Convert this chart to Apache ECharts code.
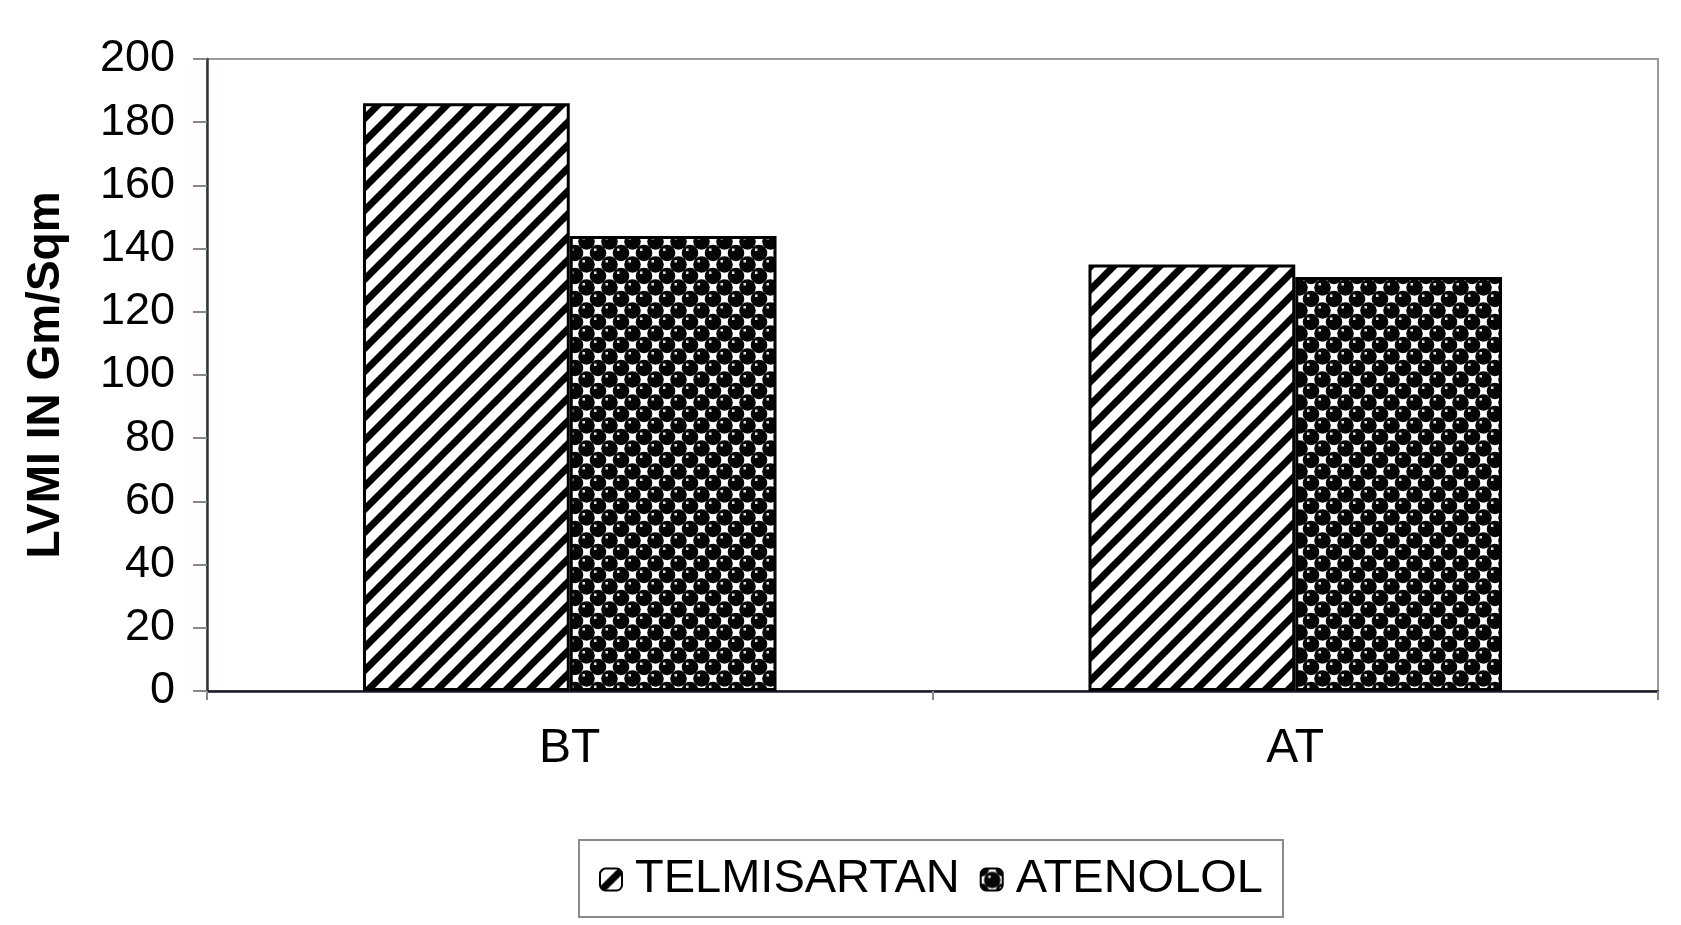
<!DOCTYPE html>
<html>
<head>
<meta charset="utf-8">
<script src="https://cdn.jsdelivr.net/npm/echarts@6/dist/echarts.min.js"></script>
<style>
html,body{margin:0;padding:0;background:#fff;}
#chart{width:1681px;height:925px;}
</style>
</head>
<body>
<div id="chart"></div>
<script>
var categories = ['BT', 'AT'];
var telmisartan = [186, 135];
var atenolol = [144, 131];
var seriesNames = ['TELMISARTAN', 'ATENOLOL'];
var yTicks = { min: 0, max: 200, interval: 20 };

function stripePattern() {
  var P = 23;
  var c = document.createElement('canvas');
  c.width = P; c.height = P;
  var g = c.getContext('2d');
  g.fillStyle = '#ffffff';
  g.fillRect(0, 0, P, P);
  g.strokeStyle = '#000000';
  g.lineWidth = 7;
  for (var k = -1; k <= 2; k++) {
    var s = k * P;
    g.beginPath();
    g.moveTo(s + P, -P);
    g.lineTo(s - 2 * P, 2 * P);
    g.stroke();
  }
  return c;
}
function dotPattern() {
  var P = 23;
  var c = document.createElement('canvas');
  c.width = P; c.height = P;
  var g = c.getContext('2d');
  g.fillStyle = '#ffffff';
  g.fillRect(0, 0, P, P);
  var pts = [[0,0],[P,0],[0,P],[P,P],[P/2,P/2]];
  pts.forEach(function(p){
    g.fillStyle = '#050505';
    g.beginPath();
    g.arc(p[0], p[1], 8.3, 0, Math.PI*2);
    g.fill();
  });
  pts.forEach(function(p){
    g.fillStyle = '#e0e0e0';
    g.fillRect(p[0]-4, p[1]-4.5, 2.5, 2.5);
  });
  return c;
}

var chart = echarts.init(document.getElementById('chart'));
var option = {
  animation: false,
  backgroundColor: '#ffffff',
  grid: {
    left: 207, right: 23, top: 59, bottom: 234,
    show: true, borderColor: '#9a9a9a', borderWidth: 2, backgroundColor: 'transparent'
  },
  legend: {
    data: seriesNames,
    bottom: 8,
    left: 579,
    itemWidth: 22,
    itemHeight: 22,
    itemGap: 20,
    padding: [16, 20, 14, 20],
    borderColor: '#8a8a8a',
    borderWidth: 2,
    textStyle: { fontFamily: 'Liberation Sans', fontSize: 47, color: '#000', padding: [0, 0, 0, 8] },
    itemStyle: { borderColor: '#000', borderWidth: 2 }
  },
  xAxis: {
    type: 'category',
    data: categories,
    axisLine: { lineStyle: { color: '#1a1a2a', width: 2.5 } },
    axisTick: { show: true, length: 9, lineStyle: { color: '#888', width: 2 } },
    axisLabel: { fontFamily: 'Liberation Sans', fontSize: 48, color: '#000', margin: 34 },
    splitLine: { show: false }
  },
  yAxis: {
    type: 'value',
    min: yTicks.min, max: yTicks.max, interval: yTicks.interval,
    name: 'LVMI IN Gm/Sqm',
    nameLocation: 'middle',
    nameGap: 138,
    nameTextStyle: { fontFamily: 'Liberation Sans', fontSize: 46, fontWeight: 'bold', color: '#000' },
    axisLine: { show: true, lineStyle: { color: '#2a3a3a', width: 2.5 } },
    axisTick: { show: true, length: 14, lineStyle: { color: '#888', width: 2 } },
    axisLabel: { fontFamily: 'Liberation Sans', fontSize: 45, color: '#000', margin: 32 },
    splitLine: { show: false }
  },
  series: [
    {
      name: seriesNames[0],
      type: 'bar',
      data: telmisartan,
      barGap: '0%',
      barCategoryGap: '43%',
      itemStyle: { color: { image: stripePattern(), repeat: 'repeat' }, borderColor: '#000', borderWidth: 3 }
    },
    {
      name: seriesNames[1],
      type: 'bar',
      data: atenolol,
      barGap: '0%',
      barCategoryGap: '43%',
      itemStyle: { color: { image: dotPattern(), repeat: 'repeat' }, borderColor: '#000', borderWidth: 3 }
    }
  ]
};
chart.setOption(option);
</script>
</body>
</html>
